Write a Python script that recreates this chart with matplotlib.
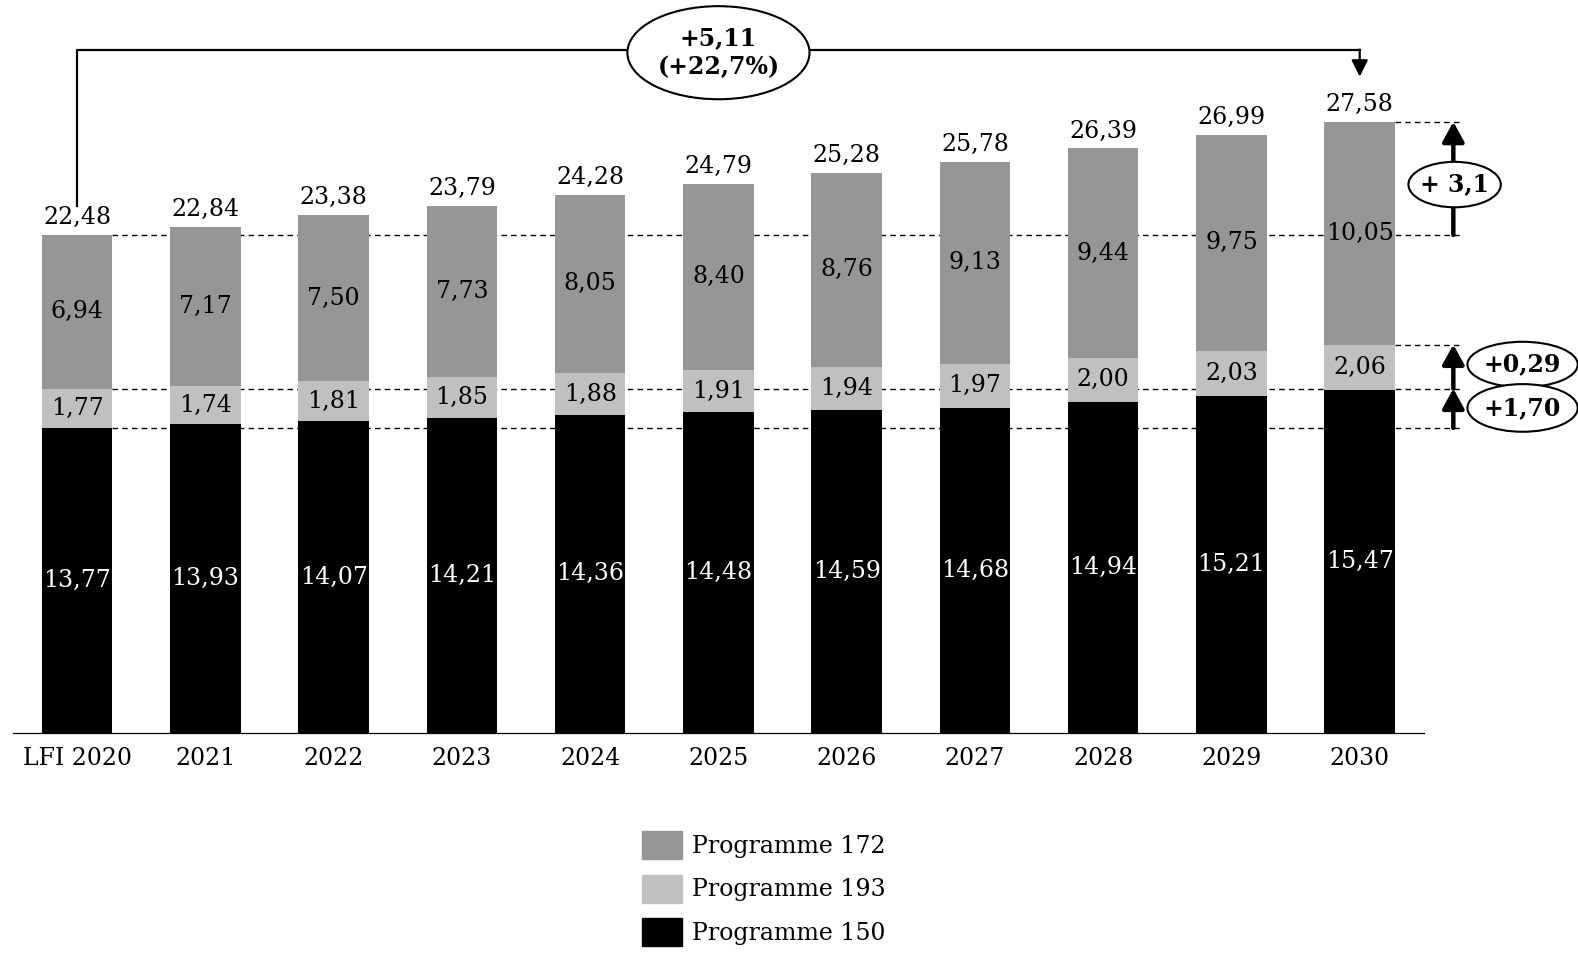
import matplotlib
matplotlib.use("Agg")
import matplotlib.pyplot as plt
from matplotlib.patches import Ellipse, Patch

plt.rcParams['font.family'] = ['DejaVu Serif']

# data
years = ['LFI 2020', '2021', '2022', '2023', '2024', '2025',
         '2026', '2027', '2028', '2029', '2030']
p150 = [13.77, 13.93, 14.07, 14.21, 14.36, 14.48, 14.59, 14.68, 14.94, 15.21, 15.47]
p193 = [1.77, 1.74, 1.81, 1.85, 1.88, 1.91, 1.94, 1.97, 2.00, 2.03, 2.06]
p172 = [6.94, 7.17, 7.50, 7.73, 8.05, 8.40, 8.76, 9.13, 9.44, 9.75, 10.05]
totals = [22.48, 22.84, 23.38, 23.79, 24.28, 24.79, 25.28, 25.78, 26.39, 26.99, 27.58]
series_names = ['Programme 150', 'Programme 193', 'Programme 172']
series_colors = ['#000000', '#c0c0c0', '#969696']
total_delta = '+5,11\n(+22,7%)'
delta_172 = '+ 3,1'
delta_193 = '+0,29'
delta_150 = '+1,70'


def fmt(v):
    return f"{v:.2f}".replace('.', ',')


fig = plt.figure(figsize=(15.78, 9.64), dpi=100)
ax = fig.add_axes([0.0083, 0.2396, 0.894, 0.7586])
ax.set_xlim(-0.5, 10.5)
ax.set_ylim(0, 33)

x = list(range(len(years)))
w = 0.55
base2 = [a + b for a, b in zip(p150, p193)]

ax.bar(x, p150, width=w, color=series_colors[0], zorder=2)
ax.bar(x, p193, width=w, bottom=p150, color=series_colors[1], zorder=2)
ax.bar(x, p172, width=w, bottom=base2, color=series_colors[2], zorder=2)

fs = 17
for i in x:
    ax.text(i, p150[i] / 2, fmt(p150[i]), ha='center', va='center',
            color='white', fontsize=fs, zorder=3)
    ax.text(i, p150[i] + p193[i] / 2, fmt(p193[i]), ha='center', va='center',
            color='black', fontsize=fs, zorder=3)
    ax.text(i, base2[i] + p172[i] / 2, fmt(p172[i]), ha='center', va='center',
            color='black', fontsize=fs, zorder=3)
    ax.annotate(fmt(totals[i]), (i, totals[i]), xytext=(0, 4),
                textcoords='offset points', ha='center', va='bottom',
                fontsize=fs, zorder=3)

# dashed reference lines (behind bars)
xa = 10.73
xe = 10.80
first, last = 0, len(years) - 1
for v in [totals[first], base2[first], p150[first]]:
    ax.plot([first + w / 2, xe], [v, v], ls='--', dashes=(4, 3), lw=1.0,
            color='black', zorder=1, clip_on=False)
for v in [totals[last], base2[last]]:
    ax.plot([last + w / 2, xe], [v, v], ls='--', dashes=(4, 3), lw=1.0,
            color='black', zorder=1, clip_on=False)

# vertical arrows on the right
arrow_kw = dict(arrowstyle='-|>,head_width=0.33,head_length=0.6',
                lw=3.2, color='black', shrinkA=0, shrinkB=0, mutation_scale=20)
ax.annotate('', xy=(xa, totals[last]), xytext=(xa, totals[first]),
            arrowprops=arrow_kw, annotation_clip=False)
ax.annotate('', xy=(xa, base2[last]), xytext=(xa, base2[first]),
            arrowprops=arrow_kw, annotation_clip=False)
ax.annotate('', xy=(xa, base2[first]), xytext=(xa, p150[first]),
            arrowprops=arrow_kw, annotation_clip=False)


def bubble(cx, cy, ew, eh, txt, size=fs):
    ax.add_patch(Ellipse((cx, cy), ew, eh, facecolor='white',
                         edgecolor='black', lw=1.5, zorder=5, clip_on=False))
    ax.text(cx, cy, txt, ha='center', va='center', fontsize=size,
            fontweight='bold', zorder=6, linespacing=1.3, clip_on=False)


bubble(10.74, 24.75, 0.72, 2.05, delta_172)
bubble(11.27, 16.63, 0.86, 2.05, delta_193)
bubble(11.27, 14.67, 0.86, 2.15, delta_150)

# bracket across the top
ytop = 30.8
ax.plot([first, first, last], [23.78, ytop, ytop], color='black', lw=1.6,
        clip_on=False, zorder=4)
ax.annotate('', xy=(last, 29.62), xytext=(last, ytop + 0.04),
            arrowprops=dict(arrowstyle='-|>,head_width=0.25,head_length=0.5',
                            lw=1.6, color='black', shrinkA=0, shrinkB=0,
                            mutation_scale=20),
            annotation_clip=False)
bubble(5.0, 30.7, 1.42, 4.2, total_delta)

# axes styling
for s in ['top', 'right', 'left']:
    ax.spines[s].set_visible(False)
ax.spines['bottom'].set_linewidth(0.9)
ax.set_yticks([])
ax.set_xticks(x)
ax.set_xticklabels(years, fontsize=fs)
ax.tick_params(axis='x', length=0, pad=10)

handles = [Patch(color=series_colors[k]) for k in [2, 1, 0]]
labels = [series_names[k] for k in [2, 1, 0]]
fig.legend(handles, labels, loc='upper center', bbox_to_anchor=(0.484, 0.150),
           frameon=False, fontsize=fs, handlelength=1.7, handleheight=1.45,
           labelspacing=0.65, handletextpad=0.4, borderpad=0)

fig.savefig('out.png', dpi=100)
